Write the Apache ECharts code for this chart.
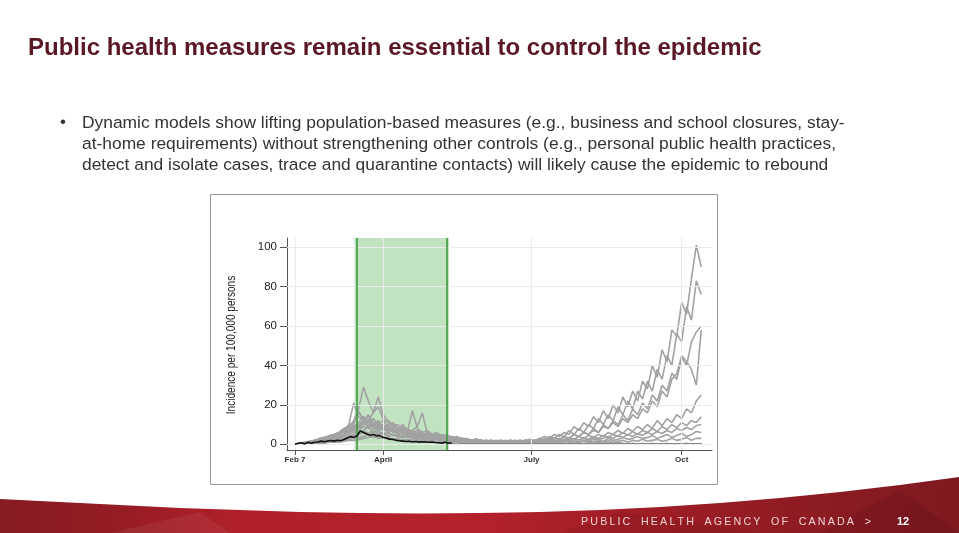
<!DOCTYPE html>
<html><head><meta charset="utf-8">
<script src="https://cdn.jsdelivr.net/npm/echarts@6/dist/echarts.min.js"></script>
<style>html,body{margin:0;padding:0;background:#fff}#c{width:959px;height:533px}</style>
</head><body><div id="c"></div>
<script>
// ---------- data ----------
const tickDays = [0, 54, 145, 237];          // days after Feb 7
const tickLabels = ['Feb 7', 'April', 'July', 'Oct'];
const yTicks = [0, 20, 40, 60, 80, 100];
const lockdownLines = [38, 93];
const lockdownShade = [36.4, 94.4];

const days = [0,3,6,9,12,15,18,21,24,27,30,33,36,39,42,45,48,51,54,57,60,63,66,69,72,75,78,81,84,87,90,93,96,99,102,105,108,111,114,117,120,123,126,129,132,135,138,141,144,147,150,153,156,159,162,165,168,171,174,177,180,183,186,189,192,195,198,201,204,207,210,213,216,219,222,225,228,231,234,237,240,243,246,249];

const obsDays = [0,2,4,6,8,10,12,14,16,18,20,22,24,26,28,30,32,34,36,38,40,42,44,46,48,50,52,54,56,58,60,62,64,66,68,70,72,74,76,78,80,82,84,86,88,90,92,94,96];
const observed = [0,0.5,0.8,0.2,1,0.5,1,1.2,1.6,1.3,1.7,1.9,1.6,2,1.8,2.4,3.2,3.9,3.6,4.2,6.8,6,5.2,4.6,5,4.3,4.4,3.6,3.2,2.6,2.4,2,1.8,1.6,1.4,1.5,1.2,1.4,1.1,1.3,1.2,1,1.2,0.9,0.8,0.6,1,0.5,0.8];

const baseDays = [96, 250];
const baseVals = [0, 0];

const sim1 = [0,0.5,1,0.8,2,2.5,3.5,3,5,6,8,9, 12,18,29,22,16,19,13,11,9,10,7,8, 6,7,5,6,4,5,4,3,4,3,2.5,3, 2,2.5,2,1.5,2,1.5,2,1,1.5,2,1.5,2, 2.5,2,3,4,3,5,4,6,5,9,7,11, 9,14,11,17,13,20,16,24,19,27,22,32, 28,40,34,48,42,58,55,72,66,84,101,90];
const sim2 = [0,0,0.5,1.5,1,2,3,4,3.5,6,7,10, 21,14,12,15,10,12,8,9,7,6,8,5, 6,4,5,3.5,4,3,3.5,2.5,3,2,2.5,2, 1.5,2,1,1.5,1,2,1.5,1,2,1.5,2,1, 2,1.5,3,2,4,3,5,4,7,5,8,6, 10,8,13,10,15,12,19,15,22,18,27,23, 32,27,38,33,45,40,56,52,70,63,83,76];
const sim3 = [0,0.5,0,1,2,1.5,3,2.5,4,5,6,7, 9,11,14,12,16,24,15,12,10,8,9,6, 7,5,6,4,5,3,4,3,2.5,3,2,2.5, 2,1.5,2,1,1.5,1,1.5,2,1,1.5,1,2, 1.5,2,1.5,3,2,3.5,2.5,4,3,5,4,6, 5,8,6,10,8,12,10,15,12,18,15,21, 18,25,22,30,27,36,33,44,40,52,57,60];
const sim4 = [0,0,1,0.5,1.5,2,2,3,4,3.5,5,6, 7,9,11,9,13,10,12,9,11,8,10,7, 17,8,6,7,5,6,4,5,3,4,3,2.5, 2,2.5,1.5,2,1.5,1,2,1.5,1,1.5,2,1.5, 1,2,1.5,2.5,2,3,2.5,4,3,5,4,6, 5,7,6,9,8,11,9,13,11,15,13,18, 16,22,19,27,24,33,36,45,42,38,30,58];
const sim5 = [0,0.5,0.5,1,1,2,2.5,2,3.5,4,5,7, 8,10,12,14,9,11,8,10,7,8,6,7, 5,6,4,5,4,3,3.5,2.5,3,2,2.5,1.5, 2,1.5,1,2,1.5,1,1.5,1,2,1,1.5,1, 1.5,1,2,1.5,2,1.5,3,2,3.5,2.5,4,3, 4.5,3.5,5,4,6,5,7,5.5,8,6.5,9,7.5, 10,8,12,9.5,13,11,15,13,18,16,22,25];
const sim6 = [0,0,0.5,0.5,1,1.5,2,2.5,3,4,4.5,6, 7,8,10,12,8,9,7,8,6,7,5,6, 4.5,5,3.5,4,3,3.5,2.5,3,2,2.5,1.5,2, 1.5,1,1.5,1,0.5,1,1.5,1,0.5,1,1,1.5, 1,1.5,1,2,1.5,2,1.5,2.5,2,3,2,3.5, 2.5,4,3,4.5,3.5,5,4,6,4.5,6.5,5,7, 6,8,6.5,9,7.5,10,8.5,11,9.5,12,11,14];
const sim7 = [0,0.5,0,1,0.5,1,1.5,2,2.5,3,4,5, 6,7,9,8,10,7,8,6,7,5,6,4.5, 5,4,4.5,3,3.5,2.5,3,2,2.5,1.5,2,1.5, 1,1.5,1,0.5,1,1.5,1,0.5,1,0.5,1,1.5, 1,0.5,1.5,1,2,1.5,1,2,1.5,2.5,2,3, 2,3.5,2.5,3,4,3,4.5,3.5,5,4,5.5,4.5, 6,5,6.5,5.5,7,6,8,7,8.5,7.5,9.5,10];
const sim8 = [0,0,0.5,0.5,1,1,1.5,2,2,2.5,3,4, 5,6,7,9,6,7,5,6,4.5,5,4,4.5, 3.5,4,3,3.5,2.5,3,2,2.5,1.5,2,1,1.5, 1,0.5,1,1,0.5,1,0.5,1,0.5,1,0.5,1, 0.5,1,1.5,1,0.5,1,1.5,1,2,1.5,1,2, 1.5,2.5,2,1.5,3,2,2.5,3.5,2.5,3,4,3, 3.5,4.5,3,4,5,3.5,4.5,5.5,4,5,6.5,6];
const sim9 = [0,0,0,0.5,0.5,1,1,1.5,2,2,2.5,3, 4,5,6,5,8,5.5,6,4.5,5,4,4.5,3.5, 4,3,3.5,2.5,3,2,2.5,1.5,2,1,1.5,1, 1,0.5,1,0.5,0.5,1,0.5,0.5,1,0.5,0.5,1, 0.5,0.5,1,0.5,1,0.5,1,1.5,1,0.5,1,1.5, 1,0.5,1.5,1,2,1,1.5,2,1,2,1.5,2.5, 1.5,2,2.5,1.5,2,3,2,2.5,3.5,2,3,3];
const sim10 = [0,0.5,1,1.5,2,3,3.5,4.5,5,6,8,9, 11,16,13,12,9,10,8,9,7,8,6,7, 6,5,5.5,4,4.5,3.5,3,3.5,2.5,3,2,2.5, 2,1.5,2,1.5,1,1.5,1,1.5,1,0.5,1,0.5, 1,0.5,0.5,1,0.5,0.5,0,0.5,0,0.5,0,0, 0,0,0,0,0,0,0,0,0,0,0,0, 0,0,0,0,0,0,0,0,0,0,0,0];
const sim11 = [0,0,0.5,0.5,1,1,1.5,1.5,2,2.5,3,3.5, 4,5,7,5.5,6,5,5.5,4,5,4,3.5,4, 3,3.5,2.5,3,2,2.5,1.5,2,1.5,1,1.5,1, 1,0.5,1,0.5,0.5,1,0.5,0,0.5,0.5,0,0.5, 0,0.5,0,0,0.5,0,0,0,0,0,0,0, 0,0,0,0,0,0,0,0,0,0,0,0, 0,0,0,0,0,0,0,0,0,0,0,0];
const sim12 = [0,0,0,0.5,0.5,0.5,1,1,1.5,1.5,2,2.5, 3,3.5,4,5,3.5,4,3,3.5,2.5,3,2,2.5, 2,2.5,1.5,2,1.5,1,1.5,1,0.5,1,0.5,1, 0.5,0.5,0,0.5,0,0.5,0,0,0,0,0,0, 0,0,0,0,0,0,0,0,0,0,0,0, 0,0,0,0,0,0,0,0,0,0,0,0, 0,0,0,0,0,0,0,0,0,0,0,0];
const sim13 = [0,0,0.5,1,1.5,2,3,4,5,5.5,7,8, 9,10,11,9,10,8,9,7,8,6,7,5.5, 6,4.5,5,4,4.5,3.5,4,3,3.5,2.5,3,2.5, 2,2.5,2,1.5,2,1.5,1,1.5,2,1.5,1,1.5, 2,1.5,2.5,2,3,2,1.5,2.5,2,1.5,1,1.5, 1,1.5,1,0.5,1,0.5,1,0.5,0,0.5,0,0.5, 0,0.5,0,0,0.5,0,0,0,0.5,0,0,0];
const sim14 = [0,0,0,0,0.5,0.5,0.5,1,1,1,1.5,2, 2,2.5,3,3.5,4,3,3.5,2.5,3,2,2.5,2, 1.5,2,1.5,1,1.5,1,0.5,1,0.5,1,0.5,0.5, 0.5,0,0.5,0,0,0,0,0,0,0,0,0, 0,0,0,0,0,0,0,0,0,0,0,0, 0,0,0,0,0,0,0,0,0,0,0,0, 0,0,0,0,0,0,0,0,0,0,0,0];
const sim15 = [0,0,0.5,1,1.5,1,2.5,3,4,5,6.5,8, 10,17,12,11,13,9,10,8,7,8,6,5.5, 6,5,4.5,5,3.5,4,3,3.5,2.5,2,2.5,2, 1.5,2,1.5,1,1.5,1,0.5,1,0.5,1,0.5,0.5, 0.5,1,0.5,0,0.5,0,0.5,0,0,0,0,0, 0,0,0,0,0,0,0,0,0,0,0,0, 0,0,0,0,0,0,0,0,0,0,0,0];
const sim16 = [0,0.5,0.5,1,1,2,2,3,3.5,4,5,6, 8,9,12,10,11,8,10,7,9,6,8,6, 7,9,16,6,5,4.5,5,3.5,4,3,3,2.5, 2,2.5,2,1.5,1,1.5,1,1.5,1,0.5,1,1, 1.5,1,2,1,0.5,1,0.5,0,0.5,0,0,0, 0,0,0,0,0,0,0,0,0,0,0,0, 0,0,0,0,0,0,0,0,0,0,0,0];

const simulations = [sim1, sim2, sim3, sim4, sim5, sim6, sim7, sim8, sim9, sim10, sim11, sim12, sim13, sim14, sim15, sim16];
simulations.forEach((s, k) => { if (s.length !== days.length) throw new Error('sim' + (k + 1) + ' has ' + s.length); });

// ---------- chart ----------
const chart = echarts.init(document.getElementById('c'), null, {renderer: 'canvas'});
const FONT = 'Liberation Sans, Arial, sans-serif';

const simSeries = simulations.map((s, k) => ({
  type: 'line', name: 'sim' + (k + 1),
  data: days.map((d, i) => [d, s[i]]),
  symbol: 'none', showSymbol: false, silent: true, z: 3,
  lineStyle: {color: '#a2a2a2', width: 1.6}, emphasis: {disabled: true}
}));

const wavePoints = [[0,499],[60,502],[120,505],[180,508],[240,510],[300,512],[360,513],[420,513.5],[480,513],[540,512],[600,510],[660,507],[720,503],[780,498],[840,492],[900,485],[959,477],[959,533],[0,533]];

const option = {
  animation: false,
  backgroundColor: '#ffffff',
  grid: {left: 287, top: 238, right: 247, bottom: 83, containLabel: false},
  xAxis: {
    type: 'value', min: -4.9, max: 255.6,
    axisLine: {show: true, onZero: false, lineStyle: {color: '#555', width: 1}},
    axisTick: {show: true, customValues: tickDays, length: 5, lineStyle: {color: '#555'}},
    axisLabel: {show: true, customValues: tickDays, margin: 6, fontSize: 8, fontWeight: 'bold', color: '#333', fontFamily: FONT,
      formatter: v => { const i = tickDays.indexOf(v); return i >= 0 ? tickLabels[i] : ''; }},
    splitLine: {show: false}
  },
  yAxis: {
    type: 'value', min: -2.9, max: 104.7,
    axisLine: {show: true, onZero: false, lineStyle: {color: '#555', width: 1}},
    axisTick: {show: true, customValues: yTicks, length: 7, lineStyle: {color: '#555'}},
    axisLabel: {show: true, customValues: yTicks, margin: 10, fontSize: 11.5, color: '#222', fontFamily: FONT},
    splitLine: {show: false}
  },
  series: [
    {type: 'line', data: [], z: 1, silent: true,
      markLine: {symbol: 'none', silent: true, animation: false, label: {show: false},
        lineStyle: {color: '#ebebeb', width: 1, type: 'solid'},
        data: [...yTicks.map(v => ({yAxis: v})), ...tickDays.map(v => ({xAxis: v}))]}},
    {type: 'line', data: [], z: 2, silent: true,
      markArea: {silent: true, itemStyle: {color: '#c1e3c1'}, data: [[{xAxis: lockdownShade[0]}, {xAxis: lockdownShade[1]}]]},
      markLine: {symbol: 'none', silent: true, animation: false, label: {show: false},
        lineStyle: {color: '#3b9a3b', width: 1.6, type: 'solid'},
        data: lockdownLines.map(v => ({xAxis: v}))}},
    ...simSeries,
    {type: 'line', name: 'base', data: baseDays.map((d, i) => [d, baseVals[i]]), symbol: 'none', silent: true, z: 4,
      lineStyle: {color: '#3a3a3a', width: 1.3}},
    {type: 'line', name: 'observed', data: obsDays.map((d, i) => [d, observed[i]]), symbol: 'none', silent: true, z: 5,
      lineStyle: {color: '#111', width: 1.6}}
  ],
  graphic: [
    {type: 'rect', z: -10, shape: {x: 210.5, y: 194.5, width: 507, height: 290}, style: {fill: 'none', stroke: '#9a9a9a', lineWidth: 1}},
    {type: 'text', x: 232, y: 345, rotation: Math.PI / 2, scaleX: 0.84, z: 10,
      style: {text: 'Incidence per 100,000 persons', font: '12px ' + FONT, fill: '#222', textAlign: 'center', textVerticalAlign: 'middle'}},
    {type: 'text', x: 28, y: 36, z: 10,
      style: {text: 'Public health measures remain essential to control the epidemic', font: 'bold 24px ' + FONT, fill: '#5a1824', textVerticalAlign: 'top'}},
    {type: 'text', x: 60, y: 114, z: 10,
      style: {text: '•', font: '17px ' + FONT, fill: '#333', textVerticalAlign: 'top'}},
    {type: 'text', x: 82, y: 113, z: 10,
      style: {text: 'Dynamic models show lifting population-based measures (e.g., business and school closures, stay-\nat-home requirements) without strengthening other controls (e.g., personal public health practices,\ndetect and isolate cases, trace and quarantine contacts) will likely cause the epidemic to rebound',
        font: '17.4px ' + FONT, lineHeight: 21, fill: '#333', textVerticalAlign: 'top'}},
    {type: 'polygon', z: 5, shape: {points: wavePoints},
      style: {fill: new echarts.graphic.LinearGradient(0, 0, 1, 0, [
        {offset: 0, color: '#861a22'}, {offset: 0.12, color: '#951c24'}, {offset: 0.25, color: '#b1202a'},
        {offset: 0.5, color: '#b4212b'}, {offset: 0.7, color: '#9c1d25'}, {offset: 1, color: '#7e1920'}])}},
    {type: 'polygon', z: 6, shape: {points: [[110, 533], [200, 512], [230, 533]]}, style: {fill: 'rgba(255,255,255,0.06)'}},
    {type: 'polygon', z: 6, shape: {points: [[560, 533], [620, 512], [760, 533]]}, style: {fill: 'rgba(0,0,0,0.06)'}},
    {type: 'polygon', z: 6, shape: {points: [[820, 533], [900, 490], [959, 533]]}, style: {fill: 'rgba(0,0,0,0.08)'}},
    {type: 'text', x: 581, y: 522, z: 10,
      style: {text: 'P\u2009U\u2009B\u2009L\u2009I\u2009C\u2003H\u2009E\u2009A\u2009L\u2009T\u2009H\u2003A\u2009G\u2009E\u2009N\u2009C\u2009Y\u2003O\u2009F\u2003C\u2009A\u2009N\u2009A\u2009D\u2009A\u2003>',
        font: '10.7px ' + FONT, fill: '#f0d2d2', textVerticalAlign: 'middle'}},
    {type: 'text', x: 897, y: 522, z: 10,
      style: {text: '12', font: 'bold 11px ' + FONT, fill: '#ffffff', textVerticalAlign: 'middle'}}
  ]
};
chart.setOption(option);
</script>
</body></html>
